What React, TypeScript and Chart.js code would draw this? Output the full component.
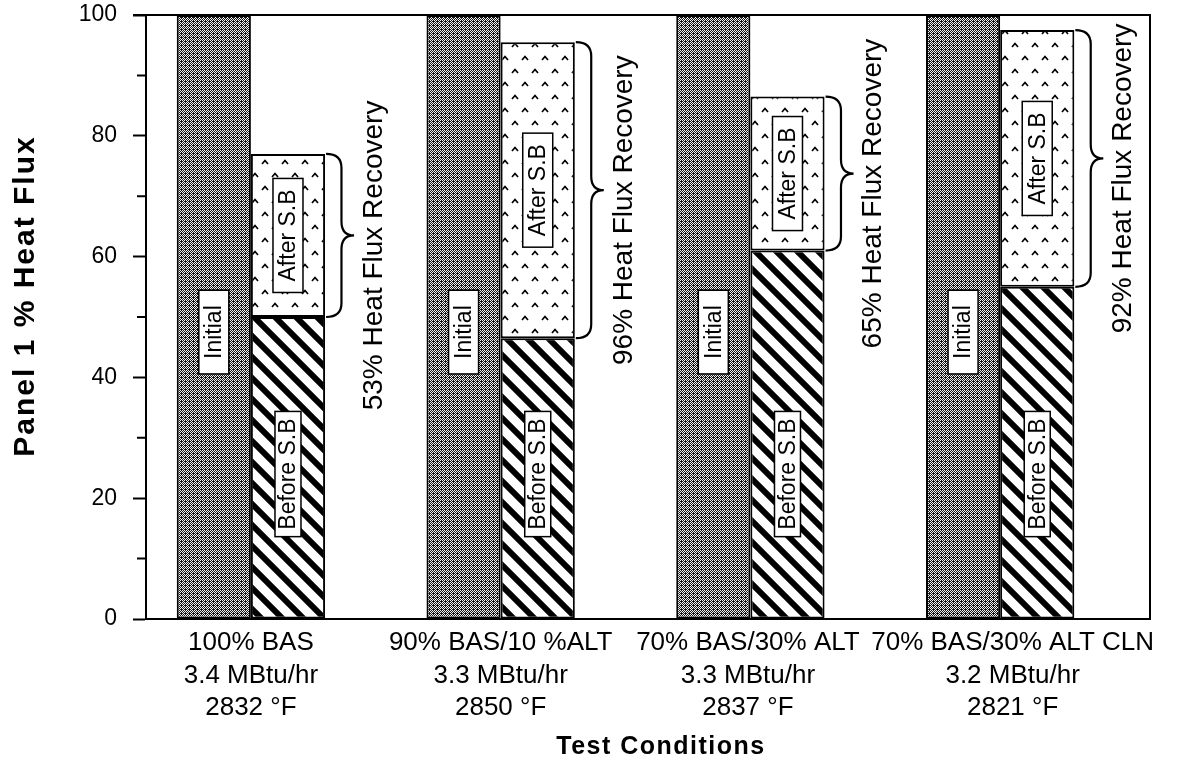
import React, { useEffect, useRef } from 'react';
import { Chart, registerables } from 'chart.js';

Chart.register(...registerables);

// Test conditions (three-line category labels)
const conditions = ['100% BAS', '90% BAS/10 %ALT', '70% BAS/30% ALT', '70% BAS/30% ALT CLN'];
const firingRates = ['3.4 MBtu/hr', '3.3 MBtu/hr', '3.3 MBtu/hr', '3.2 MBtu/hr'];
const furnaceTemps = ['2832 °F', '2850 °F', '2837 °F', '2821 °F'];

// Panel 1 heat flux, % of initial
const initialFlux = [100, 100, 100, 100];
const beforeSootBlow = [50, 46.5, 61, 55];
const afterSootBlow = [77, 95.5, 86.5, 97.5];
const recoveryPct = [53, 96, 65, 92];

const FONT = '"Liberation Sans", Arial, Helvetica, sans-serif';

function makePattern(
  target: CanvasRenderingContext2D,
  w: number,
  h: number,
  draw: (g: CanvasRenderingContext2D) => void
): CanvasPattern {
  const tile = document.createElement('canvas');
  tile.width = w;
  tile.height = h;
  const g = tile.getContext('2d')!;
  draw(g);
  return target.createPattern(tile, 'repeat')!;
}

function boxedLabel(
  ctx: CanvasRenderingContext2D,
  text: string,
  cx: number,
  cy: number,
  thick: number,
  pad: number
) {
  ctx.save();
  ctx.font = `23px ${FONT}`;
  const tw = ctx.measureText(text).width;
  const len = tw + pad * 2;
  ctx.fillStyle = '#fff';
  ctx.fillRect(cx - thick / 2, cy - len / 2, thick, len);
  ctx.strokeStyle = '#000';
  ctx.lineWidth = 1.5;
  ctx.strokeRect(cx - thick / 2, cy - len / 2, thick, len);
  ctx.translate(cx, cy);
  ctx.rotate(-Math.PI / 2);
  ctx.fillStyle = '#000';
  ctx.textAlign = 'center';
  ctx.textBaseline = 'middle';
  ctx.fillText(text, 0, 1);
  ctx.restore();
}

function brace(ctx: CanvasRenderingContext2D, x0: number, top: number, bot: number, w: number) {
  const mid = (top + bot) / 2;
  const xm = x0 + w * 0.55;
  const r = Math.min(14, (bot - top) / 4);
  ctx.beginPath();
  ctx.moveTo(x0, top);
  ctx.quadraticCurveTo(xm, top, xm, top + r);
  ctx.lineTo(xm, mid - r);
  ctx.quadraticCurveTo(xm, mid, x0 + w, mid);
  ctx.quadraticCurveTo(xm, mid, xm, mid + r);
  ctx.lineTo(xm, bot - r);
  ctx.quadraticCurveTo(xm, bot, x0, bot);
  ctx.stroke();
}

const annotations = {
  id: 'annotations',
  afterDraw(chart: any) {
    const { ctx, chartArea: a, scales } = chart;
    const y = scales.y;
    ctx.save();

    // plot frame (top and right) and minor ticks
    ctx.strokeStyle = '#000';
    ctx.lineWidth = 2;
    ctx.beginPath();
    ctx.moveTo(a.left - 13, a.top);
    ctx.lineTo(a.right, a.top);
    ctx.lineTo(a.right, a.bottom);
    ctx.stroke();
    ctx.beginPath();
    for (let v = 10; v < 100; v += 20) {
      const py = y.getPixelForValue(v);
      ctx.moveTo(a.left - 9, py);
      ctx.lineTo(a.left, py);
    }
    ctx.stroke();

    const mInit = chart.getDatasetMeta(0);
    const mBefore = chart.getDatasetMeta(1);
    const mAfter = chart.getDatasetMeta(2);
    const names = chart.data.datasets.map((d: any) => d.label);

    conditions.forEach((_, i) => {
      const eInit = mInit.data[i];
      const eBefore = mBefore.data[i];
      const eAfter = mAfter.data[i];

      boxedLabel(ctx, names[0], eInit.x, y.getPixelForValue(47.5), 30, 15);
      boxedLabel(ctx, names[1], eBefore.x, y.getPixelForValue(24), 26, 7);
      boxedLabel(ctx, names[2], eAfter.x, (eAfter.y + eAfter.base) / 2, 30, 11);

      // recovery brace
      const right = eAfter.x + eAfter.width / 2;
      ctx.strokeStyle = '#000';
      ctx.lineWidth = 2.2;
      brace(ctx, right + 1, eAfter.y, eAfter.base, 28);

      // recovery text
      const text = `${recoveryPct[i]}% Heat Flux Recovery`;
      ctx.save();
      ctx.font = `28px ${FONT}`;
      const len = ctx.measureText(text).width;
      const mid = (eAfter.y + eAfter.base) / 2 + 20;
      const cy = Math.max(mid, a.top + 5 + len / 2);
      ctx.translate(right + 49, cy);
      ctx.rotate(-Math.PI / 2);
      ctx.fillStyle = '#000';
      ctx.textAlign = 'center';
      ctx.textBaseline = 'middle';
      ctx.fillText(text, 0, 0);
      ctx.restore();
    });

    // axis titles
    ctx.fillStyle = '#000';
    ctx.textAlign = 'center';
    ctx.textBaseline = 'middle';
    ctx.save();
    ctx.font = `bold 30px ${FONT}`;
    (ctx as any).letterSpacing = '2px';
    ctx.translate(26, 296);
    ctx.rotate(-Math.PI / 2);
    ctx.fillText('Panel 1 % Heat Flux', 0, 0);
    ctx.restore();
    ctx.save();
    ctx.font = `bold 25px ${FONT}`;
    (ctx as any).letterSpacing = '1.5px';
    ctx.fillText('Test Conditions', 661, 747);
    ctx.restore();

    ctx.restore();
  },
};

export default function App() {
  const ref = useRef<HTMLCanvasElement>(null);

  useEffect(() => {
    const canvas = ref.current!;
    const c2d = canvas.getContext('2d')!;

    // dark halftone stipple
    const stipple = makePattern(c2d, 4, 4, (g) => {
      const rows = ['WBWB', 'BBBW', 'WBWB', 'BWBW'];
      g.fillStyle = '#151515';
      g.fillRect(0, 0, 4, 4);
      g.fillStyle = '#f2f2f2';
      rows.forEach((row, yy) =>
        row.split('').forEach((ch, xx) => {
          if (ch === 'W') g.fillRect(xx, yy, 1, 1);
        })
      );
    });

    // bold diagonal hatching
    const hatch = makePattern(c2d, 21, 21, (g) => {
      g.fillStyle = '#fff';
      g.fillRect(0, 0, 21, 21);
      g.strokeStyle = '#000';
      g.lineWidth = 6;
      g.beginPath();
      for (const k of [-1, 0, 1]) {
        g.moveTo(k * 21 - 5, -5);
        g.lineTo(k * 21 + 26, 26);
      }
      g.stroke();
    });

    // small caret marks on white
    const carets = makePattern(c2d, 20, 26, (g) => {
      g.fillStyle = '#fff';
      g.fillRect(0, 0, 20, 26);
      g.strokeStyle = '#000';
      g.lineWidth = 1.7;
      g.beginPath();
      for (const [cx, cy] of [
        [5, 6],
        [15, 19],
      ]) {
        g.moveTo(cx - 3, cy + 2);
        g.lineTo(cx, cy - 1.5);
        g.lineTo(cx + 3, cy + 2);
      }
      g.stroke();
    });

    const barCommon = {
      borderColor: '#000',
      borderWidth: 2,
      borderSkipped: false as const,
      categoryPercentage: 0.6,
      barPercentage: 1,
    };

    // label anchor for each category on the x axis
    const labelAt = [0, 1, 1.99, 3.05];

    const chart = new Chart(canvas, {
      type: 'bar',
      data: {
        datasets: [
          {
            label: 'Initial',
            data: initialFlux.map((v, i) => ({ x: i, y: v })),
            backgroundColor: stipple,
            stack: 'initial',
            ...barCommon,
          },
          {
            label: 'Before S.B',
            data: beforeSootBlow.map((v, i) => ({ x: i, y: v })),
            backgroundColor: hatch,
            stack: 'sootblow',
            ...barCommon,
          },
          {
            label: 'After S.B',
            data: afterSootBlow.map((v, i) => ({ x: i, y: v - beforeSootBlow[i] })),
            backgroundColor: carets,
            stack: 'sootblow',
            ...barCommon,
          },
        ],
      },
      options: {
        responsive: false,
        animation: false,
        layout: { padding: { top: 15, right: 40, left: 0, bottom: 0 } },
        plugins: { legend: { display: false }, tooltip: { enabled: false } },
        scales: {
          x: {
            type: 'linear',
            min: -0.42,
            max: 3.6,
            offset: false,
            bounds: 'data',
            afterBuildTicks: (s: any) => {
              s.ticks = labelAt.map((value) => ({ value }));
            },
            afterFit: (s: any) => {
              s.height = 160;
            },
            grid: { display: false, drawTicks: false },
            border: { display: true, color: '#000', width: 2 },
            ticks: {
              autoSkip: false,
              maxRotation: 0,
              minRotation: 0,
              padding: 8,
              color: '#000',
              font: { family: FONT, size: 26, lineHeight: 1.25 },
              callback: (v: any) => {
                const i = Math.round(Number(v));
                return [conditions[i], firingRates[i], furnaceTemps[i]];
              },
            },
          },
          y: {
            min: 0,
            max: 100,
            stacked: true,
            afterFit: (s: any) => {
              s.width = 146;
              s.paddingTop = 0;
              s.paddingBottom = 0;
            },
            ticks: {
              stepSize: 10,
              padding: 16,
              color: '#000',
              font: { family: FONT, size: 23 },
              callback: (v: any) => (Number(v) % 20 === 0 ? String(v) : ''),
            },
            grid: {
              drawOnChartArea: false,
              drawTicks: true,
              tickLength: 13,
              tickWidth: 2,
              tickColor: (c: any) =>
                c.tick && c.tick.value % 20 === 0 ? '#000' : 'rgba(0,0,0,0)',
            },
            border: { display: true, color: '#000', width: 2 },
          },
        },
      },
      plugins: [annotations],
    } as any);

    return () => chart.destroy();
  }, []);

  return (
    <div style={{ position: 'fixed', left: 0, top: 0, width: 1190, height: 779, background: '#fff' }}>
      <canvas ref={ref} width={1190} height={779} style={{ display: 'block' }} />
    </div>
  );
}
